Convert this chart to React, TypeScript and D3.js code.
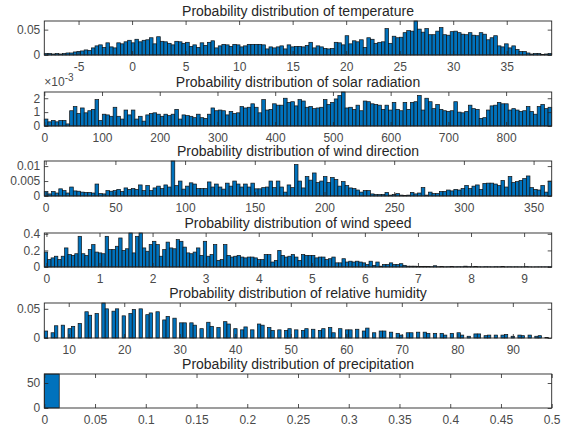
import { useEffect, useRef } from 'react';
import * as d3 from 'd3';

// ---- data: pdf-normalised histograms ----

const TEMP_LIMITS = [-8.2, 39.2];
const TEMP_XTICKS = [-5, 0, 5, 10, 15, 20, 25, 30, 35];
const TEMP_YTICKS = [0, 0.05];
const TEMP_PDF = [
  0.003, 0.003, 0.002, 0.003, 0.002, 0.003, 0.004, 0.004, 0.006, 0.007,
  0.008, 0.010, 0.009, 0.014, 0.018, 0.020, 0.015, 0.024, 0.016, 0.014,
  0.024, 0.022, 0.026, 0.029, 0.024, 0.031, 0.026, 0.029, 0.030, 0.034,
  0.022, 0.036, 0.027, 0.026, 0.023, 0.020, 0.027, 0.026, 0.023, 0.025,
  0.017, 0.020, 0.015, 0.024, 0.019, 0.025, 0.028, 0.014, 0.018, 0.021,
  0.020, 0.017, 0.021, 0.020, 0.016, 0.018, 0.021, 0.021, 0.021, 0.021,
  0.020, 0.012, 0.016, 0.014, 0.016, 0.018, 0.012, 0.020, 0.016, 0.017,
  0.017, 0.016, 0.019, 0.025, 0.014, 0.018, 0.016, 0.013, 0.012, 0.013,
  0.025, 0.024, 0.020, 0.038, 0.022, 0.028, 0.026, 0.030, 0.015, 0.034,
  0.031, 0.023, 0.025, 0.026, 0.052, 0.023, 0.037, 0.034, 0.035, 0.044,
  0.048, 0.047, 0.067, 0.051, 0.045, 0.052, 0.040, 0.040, 0.047, 0.054,
  0.040, 0.039, 0.046, 0.047, 0.044, 0.041, 0.040, 0.044, 0.039, 0.038,
  0.044, 0.041, 0.030, 0.034, 0.038, 0.018, 0.016, 0.022, 0.014, 0.018,
  0.011, 0.007, 0.007, 0.004, 0.002, 0.003, 0.003, 0.001, 0.002, 0.003,
];

const SOLAR_LIMITS = [0, 879];
const SOLAR_XTICKS = [0, 100, 200, 300, 400, 500, 600, 700, 800];
const SOLAR_YTICKS = [0, 1, 2];
// in units of 10^-3
const SOLAR_PDF_E3 = [
  0.5, 0.3, 0.4, 0.3, 0.4, 0.4, 0.15, 1.1, 1.4, 0.9,
  1.3, 0.95, 1.1, 1.2, 1.9, 0.4, 0.85, 0.8, 0.7, 1.35,
  0.7, 0.5, 1.15, 0.8, 1.15, 0.5, 0.7, 0.35, 0.8, 0.9,
  0.95, 0.85, 0.7, 0.85, 0.75, 0.85, 1.2, 0.5, 0.8, 0.75,
  0.7, 0.6, 0.85, 0.6, 0.55, 0.85, 1.3, 1.1, 1.15, 1.1,
  0.8, 1.05, 0.9, 0.95, 1.4, 1.3, 1.35, 1.6, 1.35, 0.95,
  1.9, 1.15, 1.2, 1.6, 1.5, 1.5, 2.0, 1.7, 1.75, 1.45,
  1.9, 1.8, 1.35, 1.4, 1.25, 1.3, 1.35, 1.9, 1.55, 1.7,
  1.95, 2.2, 2.45, 1.3, 1.35, 1.2, 1.5, 1.1, 1.8, 1.75,
  1.6, 1.55, 1.5, 1.2, 1.5, 1.15, 1.7, 1.2, 1.1, 1.7,
  1.2, 1.7, 1.75, 2.2, 1.15, 2.0, 1.75, 1.25, 1.55, 1.2,
  1.1, 1.05, 1.1, 1.75, 1.0, 0.95, 1.05, 1.5, 1.25, 1.2,
  0.55, 0.6, 1.15, 1.45, 1.5, 1.7, 1.6, 1.6, 1.15, 1.25,
  1.15, 1.05, 1.1, 1.4, 1.05, 0.85, 1.4, 1.55, 1.25, 1.35,
];

const WDIR_LIMITS = [-1, 363];
const WDIR_XTICKS = [0, 50, 100, 150, 200, 250, 300, 350];
const WDIR_YTICKS = [0, 0.005, 0.01];
const WDIR_PDF = [
  0.0015, 0.0007, 0.0015, 0.001, 0.0024, 0.0018, 0.001, 0.003, 0.0017, 0.0016,
  0.0013, 0.0012, 0.0012, 0.001, 0.004, 0.0008, 0.0007, 0.0018, 0.0016, 0.0018,
  0.0022, 0.0015, 0.0027, 0.0022, 0.0025, 0.0022, 0.0037, 0.0018, 0.0035, 0.0018,
  0.0027, 0.0033, 0.0025, 0.0037, 0.003, 0.0117, 0.0035, 0.005, 0.0023, 0.0033,
  0.0044, 0.004, 0.0025, 0.0025, 0.0025, 0.0047, 0.003, 0.004, 0.003, 0.0023,
  0.0043, 0.0033, 0.005, 0.004, 0.003, 0.004, 0.003, 0.0043, 0.0024, 0.0024,
  0.0028, 0.003, 0.005, 0.0028, 0.005, 0.003, 0.0013, 0.0037, 0.0028, 0.0105,
  0.005, 0.0027, 0.0065, 0.0053, 0.0077, 0.0045, 0.005, 0.0065, 0.0045, 0.0062,
  0.0055, 0.0033, 0.0048, 0.0035, 0.0027, 0.0025, 0.002, 0.0013, 0.0018, 0.0018,
  0.0007, 0.0005, 0.0005, 0.0005, 0.0012, 0.0003, 0.0005, 0.0008, 0.0003, 0.0002,
  0.0003, 0.0012, 0.0007, 0.001, 0.0028, 0.0003, 0.0013, 0.0008, 0.0008, 0.0015,
  0.0015, 0.002, 0.0017, 0.0022, 0.002, 0.0025, 0.0035, 0.0025, 0.0033, 0.0037,
  0.0022, 0.0042, 0.0043, 0.0043, 0.004, 0.0035, 0.0052, 0.003, 0.0065, 0.0045,
  0.0048, 0.0052, 0.0058, 0.0067, 0.0028, 0.0022, 0.002, 0.0035, 0.0013, 0.005,
];

const WSPD_LIMITS = [-0.04, 9.52];
const WSPD_XTICKS = [0, 1, 2, 3, 4, 5, 6, 7, 8, 9];
const WSPD_YTICKS = [0, 0.2, 0.4];
const WSPD_PDF = [
  0.18, 0.09, 0.11, 0.13, 0.09, 0.13, 0.23, 0.15, 0.14, 0.16,
  0.37, 0.16, 0.14, 0.21, 0.27, 0.18, 0.17, 0.16, 0.37, 0.21,
  0.21, 0.25, 0.35, 0.2, 0.22, 0.41, 0.17, 0.37, 0.41, 0.23,
  0.19, 0.27, 0.31, 0.27, 0.13, 0.21, 0.3, 0.23, 0.22, 0.33,
  0.31, 0.24, 0.17, 0.16, 0.18, 0.23, 0.14, 0.31, 0.13, 0.15,
  0.27, 0.08, 0.09, 0.27, 0.14, 0.12, 0.13, 0.14, 0.12, 0.11,
  0.12, 0.12, 0.11, 0.09, 0.09, 0.15, 0.15, 0.06, 0.08, 0.2,
  0.14, 0.12, 0.13, 0.15, 0.12, 0.08, 0.15, 0.14, 0.14, 0.14,
  0.11, 0.12, 0.12, 0.09, 0.1, 0.12, 0.05, 0.05, 0.1, 0.06,
  0.07, 0.06, 0.07, 0.06, 0.05, 0.03, 0.07, 0.02, 0.06, 0.01,
  0.03, 0.03, 0.05, 0.03, 0.03, 0.04, 0.02, 0.01, 0.01, 0.01,
  0.008, 0.005, 0.008, 0.005, 0.004, 0.015, 0.004, 0.005, 0.003, 0.004,
  0.006, 0.003, 0.004, 0.003, 0.01, 0.004, 0.003, 0.005, 0.003, 0.002,
  0.004, 0.003, 0.002, 0.004, 0.003, 0.005, 0.002, 0.003, 0.002, 0.003,
  0.002, 0.002, 0.004, 0.002, 0.001, 0.002, 0.002, 0.002, 0.002, 0.003,
];

// relative humidity is recorded in whole percent: one value per level,
// placed into 150 equal bins between the limits
const RH_LIMITS = [5.6, 97];
const RH_BIN_COUNT = 150;
const RH_FIRST_LEVEL = 6;
const RH_XTICKS = [10, 20, 30, 40, 50, 60, 70, 80, 90];
const RH_YTICKS = [0, 0.05];
const RH_PDF = [
  0.012, 0.009, 0.021, 0.022, 0.016, 0.02, 0.025, 0.045, 0.039, 0.042,
  0.06, 0.05, 0.046, 0.05, 0.038, 0.042, 0.049, 0.05, 0.04, 0.043,
  0.045, 0.031, 0.037, 0.034, 0.026, 0.026, 0.026, 0.022, 0.016, 0.027,
  0.02, 0.018, 0.028, 0.024, 0.016, 0.014, 0.019, 0.014, 0.024, 0.022,
  0.018, 0.013, 0.014, 0.013, 0.016, 0.014, 0.013, 0.016, 0.015, 0.013,
  0.016, 0.018, 0.009, 0.016, 0.014, 0.014, 0.015, 0.012, 0.017, 0.009,
  0.012, 0.012, 0.01, 0.008, 0.005, 0.009, 0.009, 0.01, 0.01, 0.008,
  0.008, 0.008, 0.005, 0.008, 0.009, 0.005, 0.003, 0.007, 0.007, 0.004,
  0.005, 0.005, 0.005, 0.006, 0.003, 0.005, 0.004, 0.005, 0.003, 0.004,
  0.001,
];

const PRECIP_LIMITS = [0, 0.5];
const PRECIP_BIN_WIDTH = 0.0147;
const PRECIP_XTICKS = [0, 0.05, 0.1, 0.15, 0.2, 0.25, 0.3, 0.35, 0.4, 0.45, 0.5];
const PRECIP_YTICKS = [0, 50];
const PRECIP_PDF = [68];

const TITLES = [
  'Probability distribution of temperature',
  'Probability distribution of solar radiation',
  'Probability distribution of wind direction',
  'Probability distribution of wind speed',
  'Probability distribution of relative humidity',
  'Probability distribution of precipitation',
];

// ---- layout ----
const W = 561;
const H = 432;
const LEFT = 44.3;
const RIGHT = 551.7;
const FRAMES = [
  { top: 21, bottom: 55 },
  { top: 92, bottom: 126 },
  { top: 161, bottom: 196 },
  { top: 233, bottom: 267 },
  { top: 303, bottom: 338 },
  { top: 374, bottom: 408 },
];
const FONT = '"Liberation Sans", Arial, Helvetica, sans-serif';
const BAR_FILL = '#0072BD';
const AXIS_COLOR = '#262626';
const TEXT_COLOR = '#4a4a4a';

interface Bar { x0: number; x1: number; v: number; }

function evenBars(limits: number[], values: number[], width?: number): Bar[] {
  const w = width ?? (limits[1] - limits[0]) / values.length;
  return values.map((v, i) => ({ x0: limits[0] + i * w, x1: limits[0] + (i + 1) * w, v }));
}

function levelBars(limits: number[], count: number, first: number, values: number[]): Bar[] {
  const w = (limits[1] - limits[0]) / count;
  return values.map((v, i) => {
    const k = Math.floor((first + i - limits[0]) / w);
    return { x0: limits[0] + k * w, x1: limits[0] + (k + 1) * w, v };
  });
}

const PANELS = [
  { bars: evenBars(TEMP_LIMITS, TEMP_PDF), limits: TEMP_LIMITS, xticks: TEMP_XTICKS, yticks: TEMP_YTICKS },
  { bars: evenBars(SOLAR_LIMITS, SOLAR_PDF_E3), limits: SOLAR_LIMITS, xticks: SOLAR_XTICKS, yticks: SOLAR_YTICKS, exponent: '-3' },
  { bars: evenBars(WDIR_LIMITS, WDIR_PDF), limits: WDIR_LIMITS, xticks: WDIR_XTICKS, yticks: WDIR_YTICKS },
  { bars: evenBars(WSPD_LIMITS, WSPD_PDF), limits: WSPD_LIMITS, xticks: WSPD_XTICKS, yticks: WSPD_YTICKS },
  { bars: levelBars(RH_LIMITS, RH_BIN_COUNT, RH_FIRST_LEVEL, RH_PDF), limits: RH_LIMITS, xticks: RH_XTICKS, yticks: RH_YTICKS },
  { bars: evenBars(PRECIP_LIMITS, PRECIP_PDF, PRECIP_BIN_WIDTH), limits: PRECIP_LIMITS, xticks: PRECIP_XTICKS, yticks: PRECIP_YTICKS },
];

export default function App() {
  const svgRef = useRef<SVGSVGElement>(null);

  useEffect(() => {
    if (!svgRef.current) return;
    document.body.style.margin = '0';
    const svg = d3.select(svgRef.current);
    svg.selectAll('*').remove();

    PANELS.forEach((p, k) => {
      const { top, bottom } = FRAMES[k];
      const x = d3.scaleLinear().domain(p.limits).range([LEFT, RIGHT]);
      const y = d3.scaleLinear().domain([0, d3.max(p.bars, (b) => b.v) || 1]).range([bottom, top]);
      const g = svg.append('g');

      // bars
      g.append('g')
        .selectAll('rect')
        .data(p.bars.filter((b) => b.v > 0))
        .join('rect')
        .attr('x', (b) => x(b.x0))
        .attr('width', (b) => x(b.x1) - x(b.x0))
        .attr('y', (b) => y(b.v))
        .attr('height', (b) => y(0) - y(b.v))
        .attr('fill', BAR_FILL)
        .attr('stroke', '#111')
        .attr('stroke-width', 0.7);

      const fmt = (d: d3.NumberValue) => String(d);
      const style = (sel: d3.Selection<SVGGElement, unknown, null, undefined>) => {
        sel.select('.domain').remove();
        sel.attr('color', AXIS_COLOR);
        sel.selectAll('line').attr('stroke-width', 0.8);
        sel.selectAll('text')
          .attr('font-family', FONT)
          .attr('font-size', 12)
          .attr('fill', TEXT_COLOR);
      };

      // inward ticks on all four sides, labels bottom and left
      g.append('g')
        .attr('transform', `translate(0,${bottom})`)
        .call(d3.axisBottom(x).tickValues(p.xticks).tickFormat(fmt).tickSize(-4).tickPadding(7))
        .call(style);
      g.append('g')
        .attr('transform', `translate(0,${top})`)
        .call(d3.axisTop(x).tickValues(p.xticks).tickFormat(() => '').tickSize(-4))
        .call(style);
      g.append('g')
        .attr('transform', `translate(${LEFT},0)`)
        .call(d3.axisLeft(y).tickValues(p.yticks).tickFormat(fmt).tickSize(-4).tickPadding(4))
        .call(style);
      g.append('g')
        .attr('transform', `translate(${RIGHT},0)`)
        .call(d3.axisRight(y).tickValues(p.yticks).tickFormat(() => '').tickSize(-4))
        .call(style);

      // box
      g.append('rect')
        .attr('x', LEFT)
        .attr('y', top)
        .attr('width', RIGHT - LEFT)
        .attr('height', bottom - top)
        .attr('fill', 'none')
        .attr('stroke', AXIS_COLOR)
        .attr('stroke-width', 0.9);

      // title
      g.append('text')
        .attr('x', (LEFT + RIGHT) / 2)
        .attr('y', top - 5)
        .attr('text-anchor', 'middle')
        .attr('font-family', FONT)
        .attr('font-size', 14)
        .attr('fill', '#262626')
        .text(TITLES[k]);

      if (p.exponent) {
        const t = g.append('text')
          .attr('x', LEFT)
          .attr('y', top - 6)
          .attr('font-family', FONT)
          .attr('font-size', 12)
          .attr('fill', TEXT_COLOR);
        t.append('tspan').text('\u00d710');
        t.append('tspan').attr('dy', -5).attr('font-size', 10).text(p.exponent);
      }
    });
  }, []);

  return <svg ref={svgRef} width={W} height={H} style={{ display: 'block', background: '#fff' }} />;
}
